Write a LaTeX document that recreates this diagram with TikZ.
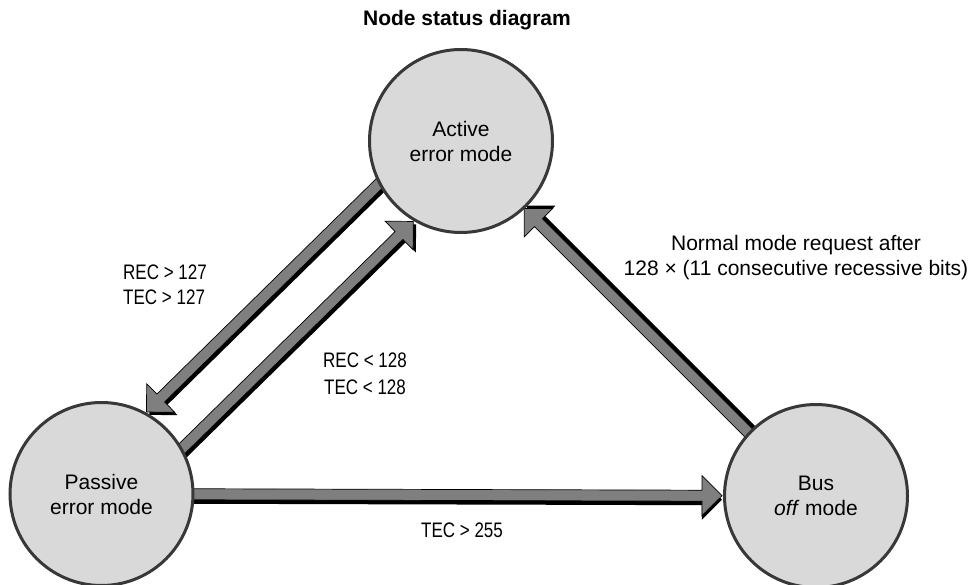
\documentclass[tikz,border=0pt]{standalone}
\usepackage{fontspec}
\setmainfont{Liberation Sans}
\usetikzlibrary{calc}
\pgfdeclarelayer{bg}
\pgfsetlayers{bg,main}
\definecolor{circfill}{HTML}{D9D9D9}
\definecolor{circline}{HTML}{383838}
\definecolor{arrowgray}{HTML}{7F7F7F}
\newcommand\cond[1]{\scalebox{0.81}[1]{#1}}
\newcommand\faShape[4]{%
  \path[#4] ($(#1)!5.5pt!90:(#3)$) -- ($(#2)!5.5pt!90:(#3)$) -- ($(#2)!20pt!90:(#3)$) -- (#3)
    -- ($(#2)!20pt!-90:(#3)$) -- ($(#2)!5.5pt!-90:(#3)$) -- ($(#1)!5.5pt!-90:(#3)$) -- cycle;}
\newcommand\fatArrow[6]{%
  \coordinate (fa-t0) at ($(#1.center)!#4!(#2.center)$);
  \coordinate (fa-s) at ($(fa-t0)!#3!90:(#2.center)$);
  \coordinate (fa-e0) at ($(#2.center)!#5!(#1.center)$);
  \coordinate (fa-e) at ($(fa-e0)!#3!-90:(#1.center)$);
  \coordinate (fa-b) at ($(fa-e)!20pt!(fa-s)$);
  \coordinate (fa-ss) at ($(fa-s)!#6!90:(fa-e)$);
  \coordinate (fa-bs) at ($(fa-b)!#6!90:(fa-e)$);
  \coordinate (fa-es) at ($(fa-e)!#6!-90:(fa-s)$);
  \faShape{fa-ss}{fa-bs}{fa-es}{fill=black}
  \faShape{fa-s}{fa-b}{fa-e}{fill=arrowgray, draw=black, line width=0.7pt}
}
\tikzset{
  txt/.style={font={\fontsize{21}{25}\selectfont}, inner sep=0pt, align=center},
  state/.style={circle, draw=circline, line width=3pt, fill=circfill, minimum size=183pt,
    inner sep=0pt, align=center, font={\fontsize{21}{25}\selectfont}},
}
\begin{document}
\begin{tikzpicture}[x=1pt,y=-1pt]
\useasboundingbox (0,0) rectangle (973,585);
\node[txt, font={\bfseries\fontsize{21}{25}\selectfont}] (T) at (467,20) {Node status diagram};
\node[state] (A) at (461,141) {Active\\error mode};
\node[state] (P) at (101.5,494) {Passive\\error mode};
\node[state] (B) at (816,496) {Bus\\\textit{off} mode};
\begin{pgfonlayer}{bg}
\fatArrow{A}{P}{-27pt}{70pt}{89.5pt}{4pt}
\fatArrow{P}{A}{-24pt}{70pt}{90.4pt}{-4pt}
\fatArrow{B}{A}{3pt}{70pt}{92.5pt}{-4pt}
\fatArrow{P}{B}{0pt}{70pt}{94pt}{-4pt}
\end{pgfonlayer}
\node[txt, align=left, anchor=west] (L1) at (123,284.5) {\cond{REC > 127}\\\cond{TEC > 127}};
\node[txt, font={\fontsize{21}{27}\selectfont}] (L2) at (365,373.5) {\cond{REC < 128}\\\cond{TEC < 128}};
\node[txt] (L3) at (796,257.5) {Normal mode request after\\128 × (11 consecutive recessive bits)};
\node[txt] (L4) at (462,530) {\cond{TEC > 255}};
\end{tikzpicture}
\end{document}
